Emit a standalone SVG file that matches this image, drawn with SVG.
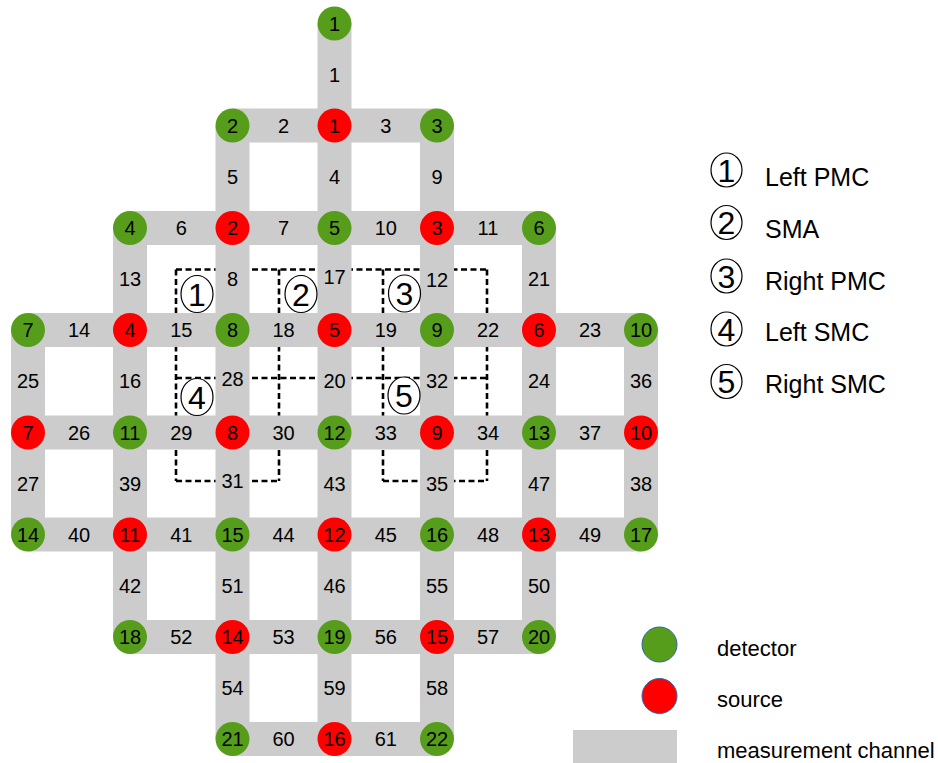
<svg xmlns="http://www.w3.org/2000/svg" width="938" height="763" viewBox="0 0 938 763">
<style>
.bar{stroke:#cccccc;stroke-width:34;fill:none;stroke-linecap:butt}
.g{fill:#579d1c}
.r{fill:#ff0000}
text{font-family:"Liberation Sans",Arial,sans-serif;fill:#000}
.lbl{font-size:20px;text-anchor:middle}
.dash{stroke:#000;stroke-width:2.6;stroke-dasharray:6 3.5;fill:none}
.oval{fill:#fff;stroke:#000;stroke-width:1.2}
.cn{font-size:32px;text-anchor:middle}
.leg{font-size:25px}
.leg2{font-size:22px}
.lc{stroke:#3465a4;stroke-width:1}
</style>
<rect width="938" height="763" fill="#fff"/>
<g id="regions">
<path class="dash" d="M176,269.5H487M176,378H487M176,481H279M383,481H487M176,269.5V481M279,269.5V481M383,269.5V481M487,269.5V481"/>
</g>
<g id="connectors">
<path class="bar" d="M232.5,125.5H437M130,228H539M28,330H641M28,432.5H641M28,534.5H641M130,637H539M232.5,739H437M28,330V534.5M130,228V637M232.5,125.5V739M334.5,23.5V739M437,125.5V739M539,228V637M641,330V534.5"/>
<g class="lbl">
<text x="334.5" y="81.5">1</text>
<text x="283.5" y="132.5">2</text><text x="385.75" y="132.5">3</text>
<text x="232.5" y="183.75">5</text><text x="334.5" y="183.75">4</text><text x="437" y="183.75">9</text>
<text x="181.25" y="235">6</text><text x="283.5" y="235">7</text><text x="385.75" y="235">10</text><text x="488" y="235">11</text>
<text x="130" y="286">13</text><text x="232.5" y="286">8</text><text x="334.5" y="284">17</text><text x="437" y="287">12</text><text x="539" y="286">21</text>
<text x="79" y="337">14</text><text x="181.25" y="337">15</text><text x="283.5" y="337">18</text><text x="385.75" y="337">19</text><text x="488" y="337">22</text><text x="590" y="337">23</text>
<text x="28" y="388">25</text><text x="130" y="388">16</text><text x="232.5" y="386">28</text><text x="334.5" y="388">20</text><text x="437" y="388">32</text><text x="539" y="388">24</text><text x="641" y="388">36</text>
<text x="79" y="439.5">26</text><text x="181.25" y="439.5">29</text><text x="283.5" y="439.5">30</text><text x="385.75" y="439.5">33</text><text x="488" y="439.5">34</text><text x="590" y="439.5">37</text>
<text x="28" y="490.5">27</text><text x="130" y="490.5">39</text><text x="232.5" y="488">31</text><text x="334.5" y="490.5">43</text><text x="437" y="491">35</text><text x="539" y="490.5">47</text><text x="641" y="490.5">38</text>
<text x="79" y="541.5">40</text><text x="181.25" y="541.5">41</text><text x="283.5" y="541.5">44</text><text x="385.75" y="541.5">45</text><text x="488" y="541.5">48</text><text x="590" y="541.5">49</text>
<text x="130" y="592.75">42</text><text x="232.5" y="592.75">51</text><text x="334.5" y="592.75">46</text><text x="437" y="592.75">55</text><text x="539" y="592.75">50</text>
<text x="181.25" y="644">52</text><text x="283.5" y="644">53</text><text x="385.75" y="644">56</text><text x="488" y="644">57</text>
<text x="232.5" y="695">54</text><text x="334.5" y="695">59</text><text x="437" y="695">58</text>
<text x="283.5" y="746">60</text><text x="385.75" y="746">61</text>
</g>
</g>
<g id="region-markers">
<g id="m1"><ellipse class="oval" cx="197" cy="294" rx="16" ry="18.5"/><text class="cn" x="197" y="305.5">1</text></g>
<g id="m2"><ellipse class="oval" cx="301" cy="294" rx="16" ry="18.5"/><text class="cn" x="301" y="305.5">2</text></g>
<g id="m3"><ellipse class="oval" cx="404.5" cy="293.5" rx="16" ry="18.5"/><text class="cn" x="404.5" y="305">3</text></g>
<g id="m4"><ellipse class="oval" cx="197" cy="397" rx="16" ry="18.5"/><text class="cn" x="197" y="408.5">4</text></g>
<g id="m5"><ellipse class="oval" cx="404" cy="395.5" rx="16" ry="18.5"/><text class="cn" x="404" y="407">5</text></g>
</g>
<g id="nodes" class="lbl">
<g id="d1"><circle class="g" cx="334.5" cy="23.5" r="17"/><text x="334.5" y="30.5">1</text></g>
<g id="d2"><circle class="g" cx="232.5" cy="125.5" r="17"/><text x="232.5" y="132.5">2</text></g>
<g id="s1"><circle class="r" cx="334.5" cy="125.5" r="17"/><text x="334.5" y="132.5">1</text></g>
<g id="d3"><circle class="g" cx="437" cy="125.5" r="17"/><text x="437" y="132.5">3</text></g>
<g id="d4"><circle class="g" cx="130" cy="228" r="17"/><text x="130" y="235">4</text></g>
<g id="s2"><circle class="r" cx="232.5" cy="228" r="17"/><text x="232.5" y="235">2</text></g>
<g id="d5"><circle class="g" cx="334.5" cy="228" r="17"/><text x="334.5" y="235">5</text></g>
<g id="s3"><circle class="r" cx="437" cy="228" r="17"/><text x="437" y="235">3</text></g>
<g id="d6"><circle class="g" cx="539" cy="228" r="17"/><text x="539" y="235">6</text></g>
<g id="d7"><circle class="g" cx="28" cy="330" r="17"/><text x="28" y="337">7</text></g>
<g id="s4"><circle class="r" cx="130" cy="330" r="17"/><text x="130" y="337">4</text></g>
<g id="d8"><circle class="g" cx="232.5" cy="330" r="17"/><text x="232.5" y="337">8</text></g>
<g id="s5"><circle class="r" cx="334.5" cy="330" r="17"/><text x="334.5" y="337">5</text></g>
<g id="d9"><circle class="g" cx="437" cy="330" r="17"/><text x="437" y="337">9</text></g>
<g id="s6"><circle class="r" cx="539" cy="330" r="17"/><text x="539" y="337">6</text></g>
<g id="d10"><circle class="g" cx="641" cy="330" r="17"/><text x="641" y="337">10</text></g>
<g id="s7"><circle class="r" cx="28" cy="432.5" r="17"/><text x="28" y="439.5">7</text></g>
<g id="d11"><circle class="g" cx="130" cy="432.5" r="17"/><text x="130" y="439.5">11</text></g>
<g id="s8"><circle class="r" cx="232.5" cy="432.5" r="17"/><text x="232.5" y="439.5">8</text></g>
<g id="d12"><circle class="g" cx="334.5" cy="432.5" r="17"/><text x="334.5" y="439.5">12</text></g>
<g id="s9"><circle class="r" cx="437" cy="432.5" r="17"/><text x="437" y="439.5">9</text></g>
<g id="d13"><circle class="g" cx="539" cy="432.5" r="17"/><text x="539" y="439.5">13</text></g>
<g id="s10"><circle class="r" cx="641" cy="432.5" r="17"/><text x="641" y="439.5">10</text></g>
<g id="d14"><circle class="g" cx="28" cy="534.5" r="17"/><text x="28" y="541.5">14</text></g>
<g id="s11"><circle class="r" cx="130" cy="534.5" r="17"/><text x="130" y="541.5">11</text></g>
<g id="d15"><circle class="g" cx="232.5" cy="534.5" r="17"/><text x="232.5" y="541.5">15</text></g>
<g id="s12"><circle class="r" cx="334.5" cy="534.5" r="17"/><text x="334.5" y="541.5">12</text></g>
<g id="d16"><circle class="g" cx="437" cy="534.5" r="17"/><text x="437" y="541.5">16</text></g>
<g id="s13"><circle class="r" cx="539" cy="534.5" r="17"/><text x="539" y="541.5">13</text></g>
<g id="d17"><circle class="g" cx="641" cy="534.5" r="17"/><text x="641" y="541.5">17</text></g>
<g id="d18"><circle class="g" cx="130" cy="637" r="17"/><text x="130" y="644">18</text></g>
<g id="s14"><circle class="r" cx="232.5" cy="637" r="17"/><text x="232.5" y="644">14</text></g>
<g id="d19"><circle class="g" cx="334.5" cy="637" r="17"/><text x="334.5" y="644">19</text></g>
<g id="s15"><circle class="r" cx="437" cy="637" r="17"/><text x="437" y="644">15</text></g>
<g id="d20"><circle class="g" cx="539" cy="637" r="17"/><text x="539" y="644">20</text></g>
<g id="d21"><circle class="g" cx="232.5" cy="739" r="17"/><text x="232.5" y="746">21</text></g>
<g id="s16"><circle class="r" cx="334.5" cy="739" r="17"/><text x="334.5" y="746">16</text></g>
<g id="d22"><circle class="g" cx="437" cy="739" r="17"/><text x="437" y="746">22</text></g>
</g>
<g id="legend-regions">
<g id="l1"><ellipse class="oval" cx="726.5" cy="170" rx="15.5" ry="17"/><text class="cn" x="726.5" y="181.5">1</text><text class="leg" x="765" y="186">Left PMC</text></g>
<g id="l2"><ellipse class="oval" cx="726.5" cy="222.5" rx="15.5" ry="17"/><text class="cn" x="726.5" y="234">2</text><text class="leg" x="765" y="237.75">SMA</text></g>
<g id="l3"><ellipse class="oval" cx="726.5" cy="276" rx="15.5" ry="17"/><text class="cn" x="726.5" y="287.5">3</text><text class="leg" x="765" y="289.5">Right PMC</text></g>
<g id="l4"><ellipse class="oval" cx="726.5" cy="329" rx="15.5" ry="17"/><text class="cn" x="726.5" y="340.5">4</text><text class="leg" x="765" y="341.25">Left SMC</text></g>
<g id="l5"><ellipse class="oval" cx="726.5" cy="381.5" rx="15.5" ry="17"/><text class="cn" x="726.5" y="393">5</text><text class="leg" x="765" y="393">Right SMC</text></g>
</g>
<g id="legend-types">
<g id="lg-detector"><circle class="g lc" cx="659.5" cy="644.5" r="17.5"/><text class="leg2" x="717" y="656">detector</text></g>
<g id="lg-source"><circle class="r lc" cx="659.5" cy="696" r="17.5"/><text class="leg2" x="717" y="707">source</text></g>
<g id="lg-channel"><rect x="573" y="730" width="104" height="34" fill="#cccccc"/><text class="leg2" x="717" y="758">measurement channel</text></g>
</g>
</svg>
